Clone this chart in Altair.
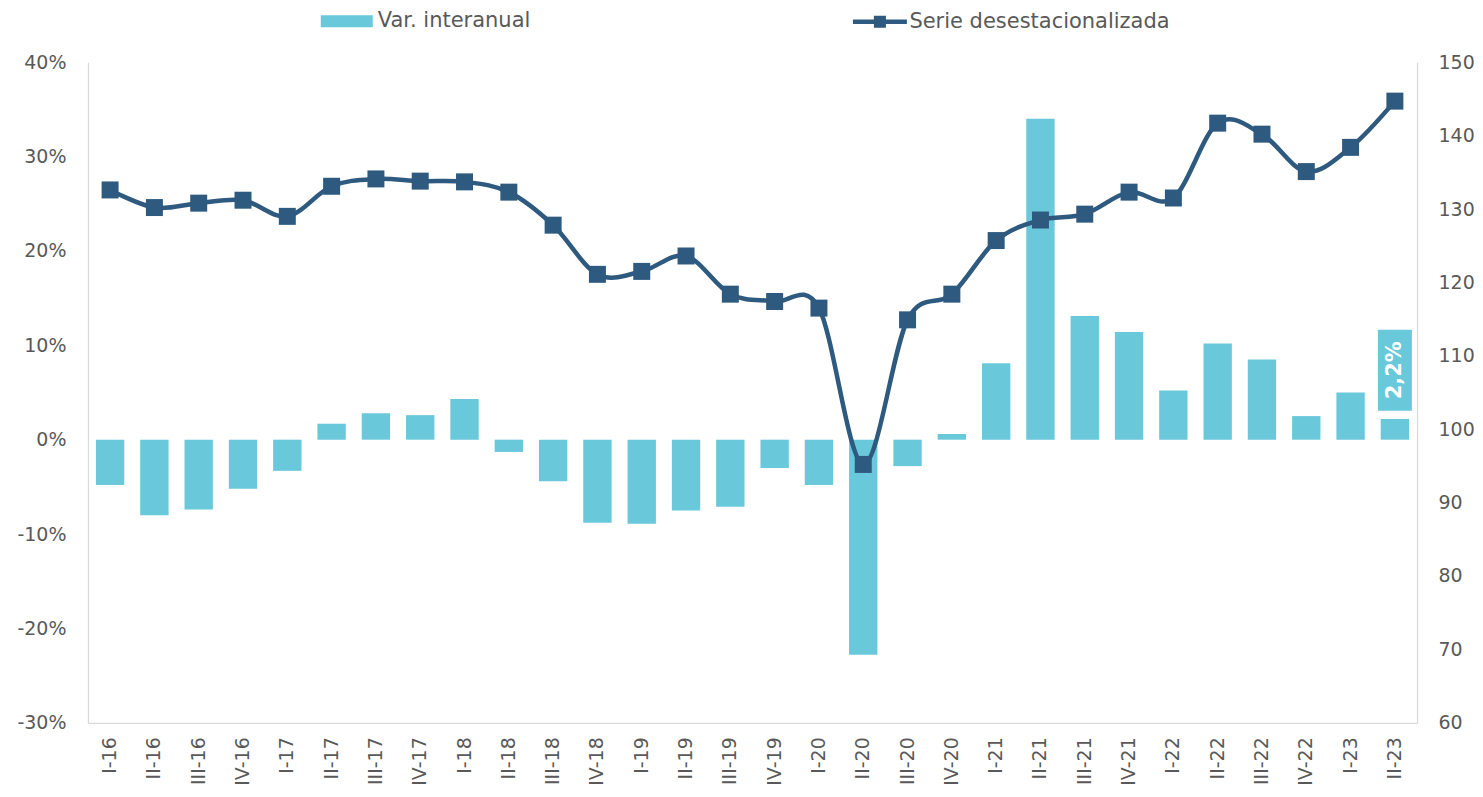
import altair as alt
import pandas as pd

trimestres = ["I-16", "II-16", "III-16", "IV-16", "I-17", "II-17", "III-17", "IV-17",
              "I-18", "II-18", "III-18", "IV-18", "I-19", "II-19", "III-19", "IV-19",
              "I-20", "II-20", "III-20", "IV-20", "I-21", "II-21", "III-21", "IV-21",
              "I-22", "II-22", "III-22", "IV-22", "I-23", "II-23"]
var_interanual = [-4.8, -8.0, -7.4, -5.2, -3.3, 1.7, 2.8, 2.6, 4.3, -1.3, -4.4, -8.8,
                  -8.9, -7.5, -7.1, -3.0, -4.8, -22.8, -2.8, 0.6, 8.1, 34.0, 13.1, 11.4,
                  5.2, 10.2, 8.5, 2.5, 5.0, 2.2]
serie_desest = [132.6, 130.2, 130.8, 131.2, 129.0, 133.1, 134.1, 133.8, 133.7, 132.3,
                127.8, 121.1, 121.5, 123.6, 118.4, 117.4, 116.5, 95.2, 114.9, 118.4,
                125.7, 128.5, 129.3, 132.3, 131.5, 141.7, 140.2, 135.1, 138.4, 144.7]
left_ticks = [-0.3, -0.2, -0.1, 0.0, 0.1, 0.2, 0.3, 0.4]
right_ticks = [60, 70, 80, 90, 100, 110, 120, 130, 140, 150]

BAR = "#69C8DA"
LINE = "#2E5A80"
TXT = "#595959"
GRID = "#D9D9D9"
FONT = "DejaVu Sans"

df = pd.DataFrame({
    "trimestre": trimestres,
    "var": [v / 100 for v in var_interanual],
    "serie": serie_desest,
})

x_axis = alt.Axis(title=None, labelAngle=270, ticks=False, labelPadding=14,
                  labelFontSize=19, labelColor=TXT, domainColor=GRID,
                  domainWidth=1.2, labelFont=FONT)
x_scale = alt.Scale(paddingInner=0.36, paddingOuter=0.18)


def xenc():
    return alt.X("trimestre:N", sort=trimestres, scale=x_scale, axis=x_axis)


y_left_scale = alt.Scale(domain=[-0.3, 0.4], nice=False, zero=False)
y_left_axis = alt.Axis(title=None, values=left_ticks, grid=False, ticks=False,
                       labelExpr="round(datum.value*100) + '%'",
                       labelPadding=22, labelFontSize=19, labelColor=TXT,
                       domainColor=GRID, domainWidth=1.2, labelFont=FONT)

y_right_scale = alt.Scale(domain=[60, 150], nice=False, zero=False)
y_right_axis = alt.Axis(title=None, orient="right", values=right_ticks, grid=False,
                        ticks=False, labelPadding=21, labelFontSize=19,
                        labelColor=TXT, domainColor=GRID, domainWidth=1.2,
                        labelFont=FONT)

bars = alt.Chart(df).mark_bar(opacity=1).encode(
    x=xenc(),
    y=alt.Y("var:Q", scale=y_left_scale, axis=y_left_axis),
    color=alt.Color("leyenda:N",
                    scale=alt.Scale(domain=["Var. interanual"], range=[BAR]),
                    legend=alt.Legend(title=None, orient="none", legendX=233, legendY=-67,
                                      symbolType="M-1,-0.23H1V0.23H-1Z", symbolSize=2704,
                                      symbolStrokeWidth=0, labelFontSize=21,
                                      labelColor=TXT, labelFont=FONT, labelOffset=5,
                                      labelLimit=500, padding=0, symbolOpacity=1)),
).transform_calculate(leyenda="'Var. interanual'")

box = alt.Chart(df).transform_filter(
    alt.datum.trimestre == trimestres[-1]
).transform_calculate(
    y0="datum['var'] + 0.0087", y1="datum['var'] + 0.0945"
).mark_bar(width=34, color=BAR, opacity=1).encode(
    x=xenc(),
    y=alt.Y("y0:Q", scale=y_left_scale, axis=y_left_axis),
    y2="y1:Q",
)

label = alt.Chart(df).transform_filter(
    alt.datum.trimestre == trimestres[-1]
).transform_calculate(
    ytxt="datum['var'] + 0.0516",
    txt="replace(format(datum['var'], '.1%'), '.', ',')",
).mark_text(angle=270, color="white", fontWeight="bold", fontSize=21, font=FONT,
            align="center", baseline="middle").encode(
    x=xenc(),
    y=alt.Y("ytxt:Q", scale=y_left_scale, axis=y_left_axis),
    text="txt:N",
)

left = alt.layer(bars, box, label)

line = alt.Chart(df).mark_line(interpolate="cardinal", strokeWidth=4.5).encode(
    x=xenc(),
    y=alt.Y("serie:Q", scale=y_right_scale, axis=y_right_axis),
    stroke=alt.Stroke("leyenda2:N",
                      scale=alt.Scale(domain=["Serie desestacionalizada"], range=[LINE]),
                      legend=alt.Legend(title=None, orient="none", legendX=763, legendY=-70,
                                        symbolType="M-1,0H1M-0.14,-0.14H0.14V0.14H-0.14Z",
                                        symbolSize=2916, symbolStrokeWidth=4.5,
                                        symbolFillColor=LINE, labelFontSize=21,
                                        labelColor=TXT, labelFont=FONT, labelOffset=0,
                                        labelLimit=500, padding=0)),
).transform_calculate(leyenda2="'Serie desestacionalizada'")

points = alt.Chart(df).mark_point(shape="square", filled=True, size=289, opacity=1,
                                  color=LINE).encode(
    x=xenc(),
    y=alt.Y("serie:Q", scale=y_right_scale, axis=y_right_axis),
)

right = alt.layer(line, points)

chart = alt.layer(left, right).resolve_scale(y="independent").properties(
    width=1330, height=661,
    autosize=alt.AutoSizeParams(type="none"),
    padding={"left": 80, "top": 54, "right": 58, "bottom": 62},
).configure(font=FONT).configure_view(stroke=None)

chart.save("out.html", embed_options={"renderer": "svg", "actions": False})
